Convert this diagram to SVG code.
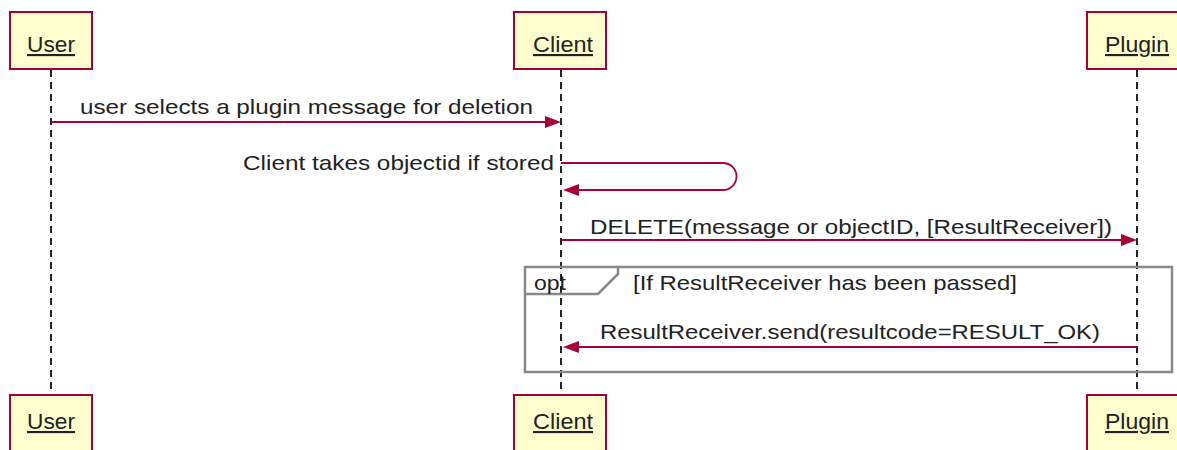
<svg xmlns="http://www.w3.org/2000/svg" width="1177" height="450" viewBox="0 0 1177 450">
<style>
.box{fill:#FEFECE;stroke:#A80036;stroke-width:2}
.pt{font-family:"Liberation Sans",Arial,sans-serif;font-size:21.5px;fill:#222;text-decoration:underline}
.t{font-family:"Liberation Sans",Arial,sans-serif;font-size:21px;fill:#222}
.life{stroke:#222;stroke-width:2;stroke-dasharray:7 5;fill:none}
.msg{stroke:#A80036;stroke-width:1.8;fill:none}
.head{fill:#A80036}
.frame{fill:none;stroke:#888;stroke-width:2.5}
</style>
<rect width="1177" height="450" fill="#ffffff"/>
<g id="lifelines">
<line class="life" x1="51" y1="70" x2="51" y2="395"/>
<line class="life" x1="561" y1="70" x2="561" y2="395"/>
<line class="life" x1="1137" y1="70" x2="1137" y2="395"/>
</g>
<g id="User">
<rect class="box" x="10" y="12" width="82" height="57"/>
<text class="pt" x="51" y="52" text-anchor="middle" textLength="48" lengthAdjust="spacingAndGlyphs">User</text>
<rect class="box" x="10" y="395" width="82" height="60"/>
<text class="pt" x="51" y="429" text-anchor="middle" textLength="48" lengthAdjust="spacingAndGlyphs">User</text>
</g>
<g id="Client">
<rect class="box" x="514" y="12" width="92" height="57"/>
<text class="pt" x="563" y="52" text-anchor="middle" textLength="60" lengthAdjust="spacingAndGlyphs">Client</text>
<rect class="box" x="514" y="395" width="92" height="60"/>
<text class="pt" x="563" y="429" text-anchor="middle" textLength="60" lengthAdjust="spacingAndGlyphs">Client</text>
</g>
<g id="Plugin">
<rect class="box" x="1087" y="12" width="100" height="57"/>
<text class="pt" x="1137" y="52" text-anchor="middle" textLength="64" lengthAdjust="spacingAndGlyphs">Plugin</text>
<rect class="box" x="1087" y="395" width="100" height="60"/>
<text class="pt" x="1137" y="429" text-anchor="middle" textLength="64" lengthAdjust="spacingAndGlyphs">Plugin</text>
</g>
<g id="opt-frame">
<rect class="frame" x="525" y="267" width="647" height="105"/>
<polyline class="frame" points="525,294 598,294 618,274 618,267"/>
<text class="t" x="534" y="290" textLength="32" lengthAdjust="spacingAndGlyphs">opt</text>
<text class="t" x="633" y="290" textLength="384" lengthAdjust="spacingAndGlyphs">[If ResultReceiver has been passed]</text>
</g>
<g id="connectors">
<line class="msg" x1="51" y1="122" x2="548" y2="122"/>
<polygon class="head" points="561,122 545,116 545,128"/>
<text class="t" x="80" y="114" textLength="453" lengthAdjust="spacingAndGlyphs">user selects a plugin message for deletion</text>

<path class="msg" d="M561,163 H723 A13.5,13.5 0 0 1 723,190 H574"/>
<polygon class="head" points="563,190 579,184 579,196"/>
<text class="t" x="554" y="170" text-anchor="end" textLength="311" lengthAdjust="spacingAndGlyphs">Client takes objectid if stored</text>

<line class="msg" x1="561" y1="240" x2="1124" y2="240"/>
<polygon class="head" points="1137,240 1121,234 1121,246"/>
<text class="t" x="590" y="234" textLength="522" lengthAdjust="spacingAndGlyphs">DELETE(message or objectID, [ResultReceiver])</text>

<line class="msg" x1="1137" y1="347" x2="574" y2="347"/>
<polygon class="head" points="563,347 579,341 579,353"/>
<text class="t" x="600" y="339" textLength="500" lengthAdjust="spacingAndGlyphs">ResultReceiver.send(resultcode=RESULT_OK)</text>
</g>
</svg>
